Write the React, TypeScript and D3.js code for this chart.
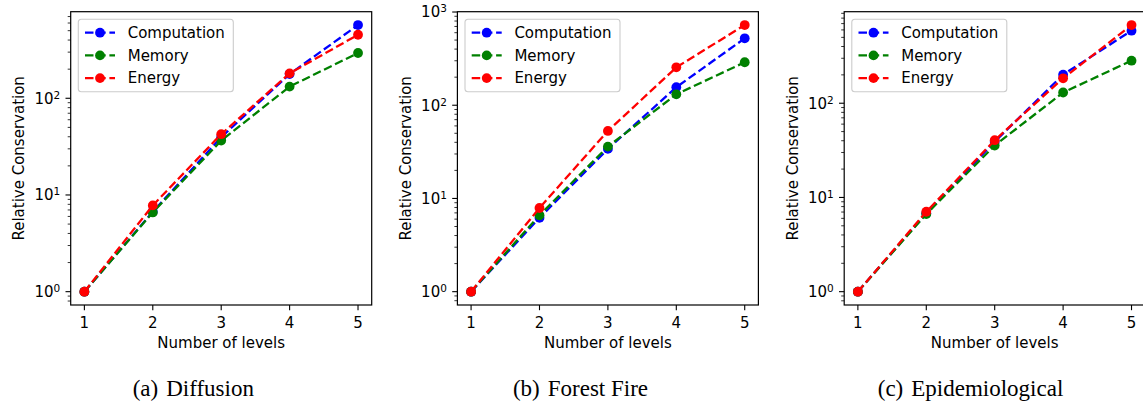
import React, { useRef, useEffect } from "react";
import * as d3 from "d3";

const levels = [1, 2, 3, 4, 5];
const seriesNames = ["Computation", "Memory", "Energy"];
const seriesColors = ["#0000ff", "#008000", "#ff0000"];

const diffusionComputation = [1, 6.7, 39.5, 178, 572];
const diffusionMemory = [1, 6.6, 36.5, 132, 294];
const diffusionEnergy = [1, 7.8, 42.5, 181, 454];

const forestComputation = [1, 6.2, 34, 156, 522];
const forestMemory = [1, 6.6, 36, 131, 289];
const forestEnergy = [1, 7.9, 53, 255, 725];

const epiComputation = [1, 6.8, 39, 201, 589];
const epiMemory = [1, 6.66, 35.6, 130, 283];
const epiEnergy = [1, 7.05, 40.5, 184, 676];

const panelTags = ["(a)", "(b)", "(c)"];
const panelTitles = ["Diffusion", "Forest Fire", "Epidemiological"];
const panelSeries = [
  [diffusionComputation, diffusionMemory, diffusionEnergy],
  [forestComputation, forestMemory, forestEnergy],
  [epiComputation, epiMemory, epiEnergy],
];

const xLabel = "Number of levels";
const yLabel = "Relative Conservation";

export default function App() {
  const ref = useRef<SVGSVGElement>(null);

  useEffect(() => {
    const width = 1143;
    const height = 405;
    const plotW = 301;
    const plotH = 293.3;
    const top = 11.7;
    const lefts = [70.7, 457.4, 844.2];
    const captionX = [193.3, 580.5, 970.5];
    const font = "DejaVu Sans";

    const svg = d3.select(ref.current);
    svg.selectAll("*").remove();
    svg.attr("width", width).attr("height", height);

    panelSeries.forEach((series, p) => {
      const left = lefts[p];
      const g = svg.append("g").attr("transform", `translate(${left},${top})`);

      const allVals = series.flat();
      const lmin = Math.log10(d3.min(allVals)!);
      const lmax = Math.log10(d3.max(allVals)!);
      const pad = (lmax - lmin) * 0.05;

      const x = d3.scaleLinear()
        .domain([levels[0] - 0.2, levels[levels.length - 1] + 0.2])
        .range([0, plotW]);
      const y = d3.scaleLog()
        .domain([Math.pow(10, lmin - pad), Math.pow(10, lmax + pad)])
        .range([plotH, 0]);

      const clipId = `clip${p}`;
      g.append("clipPath").attr("id", clipId)
        .append("rect").attr("width", plotW).attr("height", plotH);

      // y ticks
      const [d0, d1] = y.domain();
      const majors: number[] = [];
      const minors: number[] = [];
      for (let k = Math.floor(Math.log10(d0)); k <= Math.ceil(Math.log10(d1)); k++) {
        const v = Math.pow(10, k);
        if (v >= d0 * 0.999 && v <= d1 * 1.001) majors.push(k);
        for (let m = 2; m <= 9; m++) {
          const mv = m * v;
          if (mv >= d0 && mv <= d1) minors.push(mv);
        }
      }
      g.append("g").selectAll("line").data(minors).join("line")
        .attr("x1", -3).attr("x2", 0)
        .attr("y1", d => y(d)).attr("y2", d => y(d))
        .attr("stroke", "#000").attr("stroke-width", 0.8);
      g.append("g").selectAll("line").data(majors).join("line")
        .attr("x1", -5.2).attr("x2", 0)
        .attr("y1", d => y(Math.pow(10, d))).attr("y2", d => y(Math.pow(10, d)))
        .attr("stroke", "#000").attr("stroke-width", 1.1);
      const yl = g.append("g").selectAll("text").data(majors).join("text")
        .attr("x", -10.5)
        .attr("y", d => y(Math.pow(10, d)) + 5.4)
        .attr("text-anchor", "end")
        .attr("font-family", font)
        .attr("font-size", 15)
        .attr("fill", "#000");
      yl.append("tspan").text("10");
      yl.append("tspan").attr("font-size", 10.5).attr("dy", -5).text(d => String(d));

      // x ticks
      g.append("g").selectAll("line").data(levels).join("line")
        .attr("x1", d => x(d)).attr("x2", d => x(d))
        .attr("y1", plotH).attr("y2", plotH + 5.2)
        .attr("stroke", "#000").attr("stroke-width", 1.1);
      g.append("g").selectAll("text").data(levels).join("text")
        .attr("x", d => x(d))
        .attr("y", plotH + 23.5)
        .attr("text-anchor", "middle")
        .attr("font-family", font)
        .attr("font-size", 15)
        .attr("fill", "#000")
        .text(d => String(d));

      // lines
      const line = d3.line<number>()
        .x((_, i) => x(levels[i]))
        .y(d => y(d));
      const data = g.append("g").attr("clip-path", `url(#${clipId})`);
      series.forEach((vals, s) => {
        data.append("path")
          .attr("d", line(vals))
          .attr("fill", "none")
          .attr("stroke", seriesColors[s])
          .attr("stroke-width", 2.3)
          .attr("stroke-dasharray", "8.5,3.7");
        data.append("g").selectAll("circle").data(vals).join("circle")
          .attr("cx", (_, i) => x(levels[i]))
          .attr("cy", d => y(d))
          .attr("r", 4.9)
          .attr("fill", seriesColors[s]);
      });

      // frame
      g.append("rect")
        .attr("width", plotW).attr("height", plotH)
        .attr("fill", "none").attr("stroke", "#000").attr("stroke-width", 1.2);

      // legend
      const lg = g.append("g").attr("transform", "translate(7.6,7.6)");
      lg.append("rect")
        .attr("width", 155).attr("height", 72.4)
        .attr("rx", 3).attr("ry", 3)
        .attr("fill", "#fff").attr("fill-opacity", 0.8)
        .attr("stroke", "#cccccc").attr("stroke-width", 1.1);
      seriesNames.forEach((name, s) => {
        const cy = 13.4 + s * 22.7;
        lg.append("line")
          .attr("x1", 6.7).attr("x2", 36.7)
          .attr("y1", cy).attr("y2", cy)
          .attr("stroke", seriesColors[s]).attr("stroke-width", 2.3)
          .attr("stroke-dasharray", "8.5,3.7");
        lg.append("circle").attr("cx", 21.7).attr("cy", cy).attr("r", 4.9)
          .attr("fill", seriesColors[s]);
        lg.append("text")
          .attr("x", 49.4).attr("y", cy + 5.4)
          .attr("font-family", font).attr("font-size", 15)
          .attr("fill", "#000")
          .text(name);
      });

      // axis labels
      g.append("text")
        .attr("x", plotW / 2).attr("y", plotH + 43.3)
        .attr("text-anchor", "middle")
        .attr("font-family", font).attr("font-size", 15)
        .attr("fill", "#000")
        .text(xLabel);
      g.append("text")
        .attr("transform", `translate(-46.7,${plotH / 2}) rotate(-90)`)
        .attr("text-anchor", "middle")
        .attr("font-family", font).attr("font-size", 15)
        .attr("fill", "#000")
        .text(yLabel);

      // caption
      const cap = svg.append("text")
        .attr("x", captionX[p]).attr("y", 395.5)
        .attr("text-anchor", "middle")
        .attr("font-family", "Liberation Serif").attr("font-size", 23)
        .attr("fill", "#000");
      cap.append("tspan").text(panelTags[p]);
      cap.append("tspan").attr("dx", 8).text(panelTitles[p]);
    });
  }, []);

  return (
    <div style={{ position: "absolute", left: 0, top: 0 }}>
      <svg ref={ref} style={{ display: "block" }}></svg>
    </div>
  );
}
